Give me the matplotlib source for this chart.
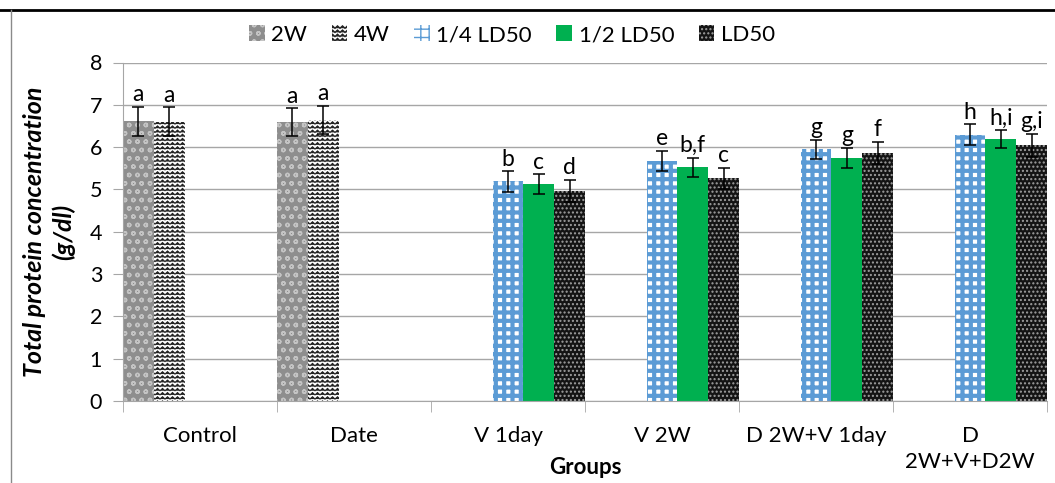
import numpy as np
import matplotlib
matplotlib.use("Agg")
import matplotlib.pyplot as plt
from matplotlib import hatch as mhatch
from matplotlib.path import Path
from matplotlib.lines import Line2D

plt.rcParams["font.family"] = ["Lato", "DejaVu Sans"]


# zigzag hatch for the 4W bars ('-' now draws zigzag rows, '+' keeps straight lines)
class PlusOnlyHorizontal(mhatch.HorizontalHatch):
    def __init__(self, hatch, density):
        self.num_lines = int(hatch.count('+') * density)
        self.num_vertices = self.num_lines * 2


class ZigzagHatch(mhatch.HatchPatternBase):
    def __init__(self, hatch, density):
        self.num_lines = int(hatch.count('-') * density)
        self.teeth = 20
        self.num_vertices = self.num_lines * (2 * self.teeth + 1)

    def set_vertices_and_codes(self, vertices, codes):
        n = 2 * self.teeth + 1
        steps, step = np.linspace(0.0, 1.0, self.num_lines, False, retstep=True)
        steps += step / 2
        xs = np.linspace(0.0, 1.0, n)
        offs = np.where(np.arange(n) % 2 == 0, -0.28, 0.28) * step
        for i, y in enumerate(steps):
            vertices[i * n:(i + 1) * n, 0] = xs
            vertices[i * n:(i + 1) * n, 1] = y + offs
            codes[i * n] = Path.MOVETO
            codes[i * n + 1:(i + 1) * n] = Path.LINETO


idx = mhatch._hatch_types.index(mhatch.HorizontalHatch)
mhatch._hatch_types[idx:idx + 1] = [PlusOnlyHorizontal, ZigzagHatch]

# data
groups = ["Control", "Date", "V 1day", "V 2W", "D 2W+V 1day", "D\n2W+V+D2W"]
series = ["2W", "4W", "1/4 LD50", "1/2 LD50", "LD50"]
nan = np.nan
vals_2w = [6.61, 6.59, nan, nan, nan, nan]
vals_4w = [6.60, 6.65, nan, nan, nan, nan]
vals_q = [nan, nan, 5.19, 5.67, 5.95, 6.29]
vals_h = [nan, nan, 5.13, 5.52, 5.74, 6.19]
vals_ld = [nan, nan, 4.96, 5.26, 5.86, 6.04]
err_2w = [0.34, 0.33, nan, nan, nan, nan]
err_4w = [0.34, 0.33, nan, nan, nan, nan]
err_q = [nan, nan, 0.24, 0.24, 0.23, 0.25]
err_h = [nan, nan, 0.23, 0.23, 0.24, 0.21]
err_ld = [nan, nan, 0.26, 0.25, 0.26, 0.27]
lab_2w = ["a", "a", "", "", "", ""]
lab_4w = ["a", "a", "", "", "", ""]
lab_q = ["", "", "b", "e", "g", "h"]
lab_h = ["", "", "c", "b,f", "g", "h,i"]
lab_ld = ["", "", "d", "c", "f", "g,i"]

values = [vals_2w, vals_4w, vals_q, vals_h, vals_ld]
errors = [err_2w, err_4w, err_q, err_h, err_ld]
letters = [lab_2w, lab_4w, lab_q, lab_h, lab_ld]
styles = [
    dict(facecolor="#8e8e8e", edgecolor="#c4c4c4", hatch="oo"),
    dict(facecolor="white", edgecolor="#222222", hatch="----"),
    dict(facecolor="white", edgecolor="#5b9bd5", hatch="++"),
    dict(facecolor="#00b050", edgecolor="#00b050", hatch=None),
    dict(facecolor="#141414", edgecolor="#a0a0a0", hatch="...."),
]
hatch_lw = [1.0, 0.8, 3.0, 1.0, 1.0]

fig = plt.figure(figsize=(10.55, 4.83), dpi=100)
ax = fig.add_axes([123 / 1055, 1 - 401 / 483, 924 / 1055, 338.5 / 483])

x = np.arange(len(groups))
w = 0.2
handles = []
for k in range(len(series)):
    pos = x - 0.5 + w / 2 + w * k
    with plt.rc_context({"hatch.linewidth": hatch_lw[k]}):
        b = ax.bar(pos, values[k], width=w, linewidth=0, label=series[k],
                   zorder=2, **styles[k])
    handles.append(b)
    ax.errorbar(pos, values[k], yerr=errors[k], fmt="none", ecolor="black",
                elinewidth=1.1, capsize=4, capthick=1.1, zorder=3)
    for p, v, e, t in zip(pos, values[k], errors[k], letters[k]):
        if t:
            ax.text(p, v + e + 0.04, t, ha="center", va="bottom", fontsize=16.5)

ax.set_xlim(-0.5, len(groups) - 0.5)
ax.set_ylim(0, 8)
ax.set_yticks(range(9))
ax.yaxis.grid(True, color="#a6a6a6", linewidth=1)
ax.set_axisbelow(True)
ax.set_xticks(x)
ax.set_xticklabels(groups, fontsize=16, linespacing=1.35)
ax.set_xticks(np.arange(len(groups) + 1) - 0.5, minor=True)
ax.tick_params(axis="x", which="major", length=0, pad=18)
ax.tick_params(axis="x", which="minor", length=8, color="#a6a6a6")
ax.tick_params(axis="y", length=7, color="#a6a6a6", labelsize=15.5, pad=8)
for s in ["top", "right"]:
    ax.spines[s].set_visible(False)
for s in ["left", "bottom"]:
    ax.spines[s].set_color("#a6a6a6")

fig.text(585 / 1055, 1 - 468 / 483, "Groups", ha="center", va="center",
         fontsize=16, fontweight="bold")
fig.text(49 / 1055, 1 - 232 / 483, "Total protein concentration\n(g/dl)",
         rotation=90, ha="center", va="center", fontsize=18,
         fontweight="bold", style="italic", linespacing=1.25)

fig.legend(handles, series, loc="center", bbox_to_anchor=(512 / 1055, 1 - 35 / 483),
           ncol=5, frameon=False, fontsize=16, handlelength=0.7, handleheight=0.7,
           handletextpad=0.3, columnspacing=1.1)

# page frame around the chart
fig.add_artist(Line2D([0, 1], [1 - 10 / 483] * 2, color="black", linewidth=2))
fig.add_artist(Line2D([11 / 1055] * 2, [0, 1 - 10 / 483], color="#8a8a8a", linewidth=1))

fig.savefig("out.png", dpi=100)
